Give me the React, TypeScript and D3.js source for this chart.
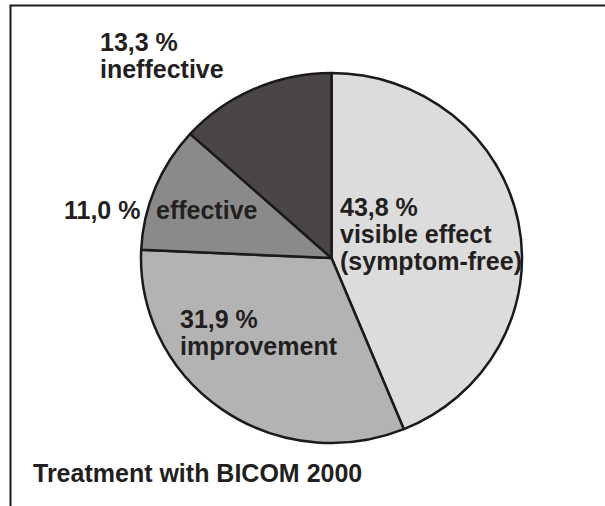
import React from 'react'
import * as d3 from 'd3'

const categories = ['visible effect (symptom-free)', 'improvement', 'effective', 'ineffective']
const shares = [43.8, 31.9, 11.0, 13.3]
const shareLabels = ['43,8 %', '31,9 %', '11,0 %', '13,3 %']
const title = 'Treatment with BICOM 2000'

const width = 605
const height = 506
const cx = 331.5
const cy = 258
const rx = 190.5
const ry = 185
const fills = ['#dcdcdc', '#b3b3b3', '#8b8a8a', '#4a4646']
const ink = '#231f20'
const font = '"Liberation Sans", Arial, sans-serif'

// label lines per slice, with placement (baseline of first line)
const labelLayout = [
  { x: 340, y: 216, lines: [shareLabels[0], 'visible effect', '(symptom-free)'] },
  { x: 180, y: 328, lines: [shareLabels[1], categories[1]] },
  { x: 156, y: 219, lines: [categories[2]] },
  { x: 100, y: 51, lines: [shareLabels[3], categories[3]] },
]
const lineGap = 27

export default function App() {
  const pie = d3.pie<number>().sort(null).value(d => d)
  const arc = d3.arc<d3.PieArcDatum<number>>().innerRadius(0).outerRadius(rx)
  const slices = pie(shares)

  return (
    <svg width={width} height={height} style={{ position: 'absolute', left: 0, top: 0, background: '#fff' }}>
      <rect x={10.5} y={5.5} width={700} height={600} fill='#fff' stroke='#1a1a1a' strokeWidth={2} />
      <g transform={`translate(${cx},${cy}) scale(1,${ry / rx})`}>
        {slices.map((s, i) => (
          <path key={i} d={arc(s) || ''} fill={fills[i]} stroke='#1a1a1a' strokeWidth={2.5}
            strokeLinejoin='round' vectorEffect='non-scaling-stroke' />
        ))}
      </g>
      <g fontFamily={font} fontWeight='bold' fontSize={25} fill={ink}>
        {labelLayout.map((l, i) => (
          <text key={i} x={l.x} y={l.y}>
            {l.lines.map((t, j) => (
              <tspan key={j} x={l.x} y={l.y + j * lineGap}>{t}</tspan>
            ))}
          </text>
        ))}
        <text x={64} y={219}>{shareLabels[2]}</text>
        <text x={33} y={482}>{title}</text>
      </g>
    </svg>
  )
}
